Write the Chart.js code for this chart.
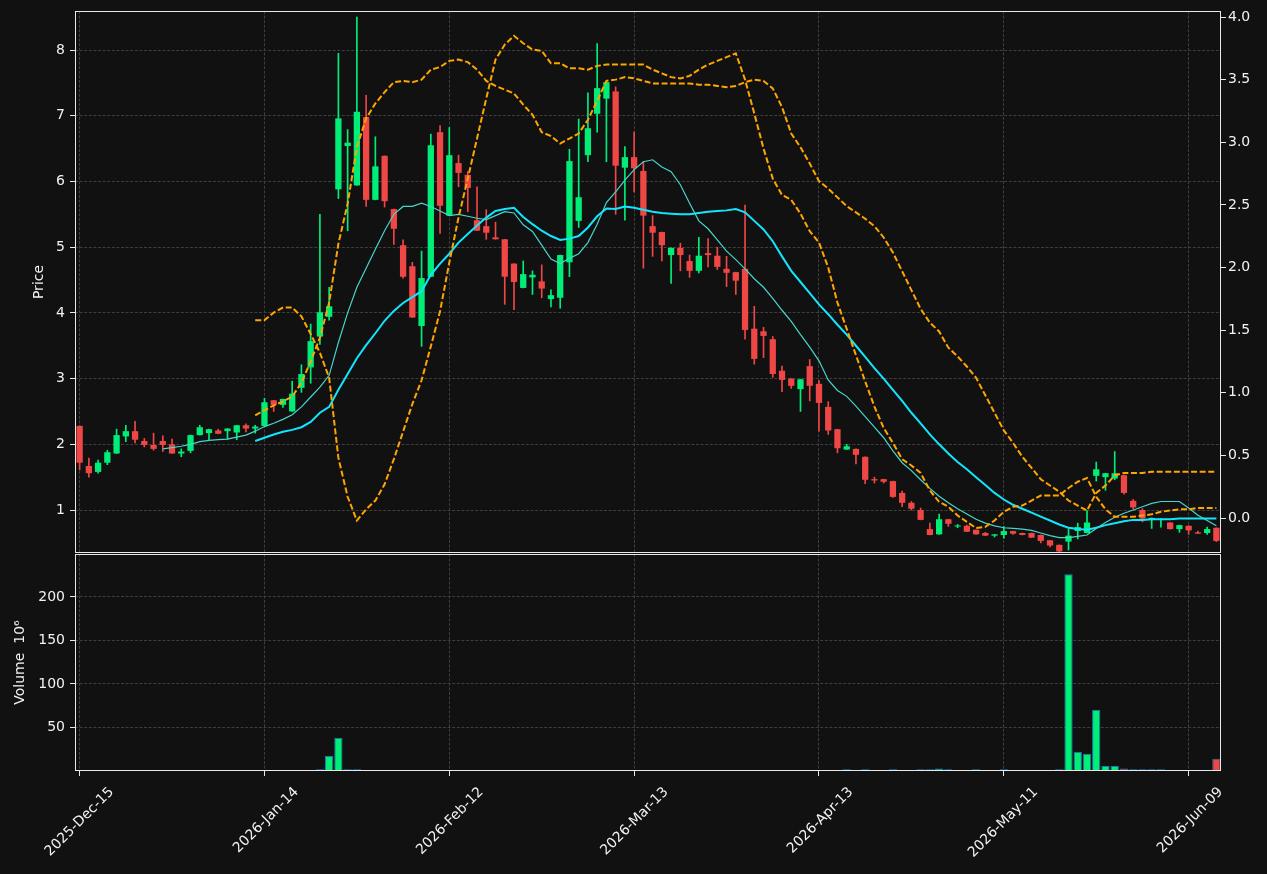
<!DOCTYPE html>
<html>
<head>
<meta charset="utf-8">
<script src="https://cdn.jsdelivr.net/npm/chart.js@4.4.1/dist/chart.umd.min.js"></script>
<style>
html, body { margin: 0; padding: 0; background: #111111; }
#wrap { position: relative; width: 1267px; height: 874px; }
canvas { position: absolute; left: 0; }
#priceChart { top: 0; }
#volChart { top: 553px; }
</style>
</head>
<body>
<div id="wrap">
  <canvas id="priceChart" width="1267" height="554"></canvas>
  <canvas id="volChart" width="1267" height="321"></canvas>
</div>
<script>
// trading calendar (weekends and exchange holidays skipped)
const firstDay = '2025-12-15';
const numDays = 124;
const holidays = ['2025-12-25', '2026-01-01', '2026-01-19', '2026-02-16', '2026-04-03', '2026-05-25'];
const monthNames = ['Jan', 'Feb', 'Mar', 'Apr', 'May', 'Jun', 'Jul', 'Aug', 'Sep', 'Oct', 'Nov', 'Dec'];

function tradingDays(start, count) {
    const out = [];
    const d = new Date(start + 'T00:00:00Z');
    while (out.length < count) {
        const iso = d.toISOString().slice(0, 10);
        const wd = d.getUTCDay();
        if (wd !== 0 && wd !== 6 && !holidays.includes(iso)) {
            out.push(d.getUTCFullYear() + '-' + monthNames[d.getUTCMonth()] + '-' + String(d.getUTCDate()).padStart(2, '0'));
        }
        d.setUTCDate(d.getUTCDate() + 1);
    }
    return out;
}
const dates = tradingDays(firstDay, numDays);

const priceTicks = [1, 2, 3, 4, 5, 6, 7, 8];
const rightTicks = [0, 0.5, 1, 1.5, 2, 2.5, 3, 3.5, 4];
const volumeTicks = [50, 100, 150, 200];

const open = [
    2.28, 1.67, 1.58, 1.72, 1.86, 2.12, 2.20, 2.05, 1.99, 2.05,
    2.00, 1.86, 1.90, 2.14, 2.17, 2.21, 2.20, 2.18, 2.29, 2.24,
    2.28, 2.67, 2.60, 2.50, 2.86, 3.17, 3.64, 3.94, 5.88, 6.54,
    5.94, 6.98, 5.72, 6.39, 5.58, 5.03, 4.71, 3.80, 4.55, 6.75,
    5.48, 6.28, 6.10, 5.41, 5.32, 5.15, 5.12, 4.75, 4.38, 4.54,
    4.48, 4.21, 4.23, 4.77, 5.40, 6.40, 7.03, 7.26, 7.37, 6.21,
    6.37, 6.16, 5.32, 5.23, 4.88, 4.99, 4.79, 4.64, 4.91, 4.87,
    4.67, 4.62, 4.67, 3.76, 3.72, 3.60, 3.12, 3.00, 2.84, 3.19,
    2.92, 2.57, 2.23, 1.92, 1.93, 1.81, 1.47, 1.47, 1.44, 1.26,
    1.11, 1.00, 0.71, 0.63, 0.86, 0.75, 0.76, 0.70, 0.65, 0.61,
    0.62, 0.68, 0.65, 0.65, 0.62, 0.54, 0.47, 0.52, 0.68, 0.65,
    1.52, 1.50, 1.48, 1.53, 1.14, 1.00, 0.85, 0.85, 0.81, 0.71,
    0.76, 0.66, 0.65, 0.73
];
const high = [
    2.28, 1.79, 1.76, 1.91, 2.23, 2.29, 2.35, 2.09, 2.17, 2.13,
    2.08, 1.93, 2.14, 2.29, 2.23, 2.23, 2.24, 2.29, 2.31, 2.29,
    2.70, 2.67, 2.69, 2.96, 3.21, 3.83, 5.50, 4.39, 7.95, 6.79,
    8.50, 7.31, 6.68, 6.39, 5.58, 5.11, 4.77, 4.94, 6.72, 6.85,
    6.82, 6.40, 6.15, 5.92, 5.57, 5.38, 5.12, 4.75, 4.79, 4.64,
    4.73, 4.35, 4.88, 6.49, 6.95, 7.35, 8.10, 7.51, 7.44, 6.53,
    6.75, 6.30, 5.48, 5.23, 4.99, 5.06, 4.88, 5.15, 5.13, 5.00,
    4.86, 4.62, 5.64, 4.10, 3.78, 3.64, 3.19, 3.00, 2.99, 3.29,
    2.97, 2.65, 2.23, 2.00, 1.93, 1.81, 1.50, 1.47, 1.44, 1.29,
    1.13, 1.03, 0.80, 0.94, 0.86, 0.78, 0.77, 0.70, 0.66, 0.63,
    0.75, 0.68, 0.65, 0.65, 0.62, 0.54, 0.47, 0.71, 0.80, 0.99,
    1.73, 1.56, 1.89, 1.53, 1.16, 1.02, 0.88, 0.87, 0.81, 0.77,
    0.76, 0.68, 0.74, 0.73
];
const low = [
    1.61, 1.50, 1.56, 1.69, 1.86, 2.04, 2.02, 1.96, 1.91, 1.89,
    1.86, 1.81, 1.87, 2.14, 2.07, 2.16, 2.08, 2.07, 2.19, 2.17,
    2.28, 2.50, 2.56, 2.50, 2.79, 2.93, 3.52, 3.89, 5.74, 5.25,
    5.94, 5.62, 5.72, 5.61, 5.04, 4.53, 3.93, 3.49, 4.55, 5.21,
    5.48, 5.92, 5.54, 5.25, 5.12, 5.12, 4.13, 4.05, 4.38, 4.28,
    4.23, 4.09, 4.07, 4.55, 5.30, 6.30, 6.75, 6.30, 5.50, 5.41,
    5.84, 4.68, 4.86, 4.79, 4.45, 4.64, 4.54, 4.61, 4.70, 4.66,
    4.40, 4.28, 3.60, 3.22, 3.32, 3.02, 2.80, 2.85, 2.50, 2.66,
    2.20, 2.15, 1.87, 1.92, 1.70, 1.40, 1.41, 1.41, 1.19, 1.05,
    1.00, 0.85, 0.62, 0.63, 0.75, 0.73, 0.67, 0.63, 0.61, 0.59,
    0.57, 0.63, 0.62, 0.58, 0.50, 0.44, 0.36, 0.39, 0.56, 0.65,
    1.44, 1.30, 1.46, 1.24, 1.02, 0.82, 0.72, 0.74, 0.71, 0.66,
    0.63, 0.64, 0.63, 0.52
];
const close = [
    1.72, 1.56, 1.72, 1.88, 2.14, 2.20, 2.07, 1.99, 1.93, 1.99,
    1.86, 1.89, 2.14, 2.26, 2.23, 2.16, 2.24, 2.29, 2.24, 2.27,
    2.64, 2.60, 2.69, 2.77, 3.07, 3.57, 4.01, 4.10, 6.96, 6.59,
    7.06, 5.72, 6.23, 5.70, 5.28, 4.55, 3.93, 4.53, 6.55, 5.63,
    6.40, 6.13, 5.90, 5.25, 5.22, 5.12, 4.55, 4.47, 4.59, 4.58,
    4.37, 4.27, 4.88, 6.31, 5.76, 6.81, 7.42, 7.51, 6.24, 6.37,
    6.20, 5.48, 5.22, 5.03, 4.99, 4.88, 4.64, 4.87, 4.88, 4.70,
    4.61, 4.49, 3.74, 3.30, 3.65, 3.07, 2.98, 2.89, 2.99, 2.89,
    2.63, 2.21, 1.94, 1.97, 1.84, 1.46, 1.45, 1.43, 1.20, 1.11,
    1.02, 0.85, 0.62, 0.86, 0.79, 0.76, 0.67, 0.63, 0.61, 0.63,
    0.68, 0.64, 0.62, 0.58, 0.53, 0.46, 0.37, 0.61, 0.74, 0.81,
    1.62, 1.56, 1.56, 1.26, 1.04, 0.87, 0.88, 0.86, 0.71, 0.77,
    0.69, 0.64, 0.71, 0.53
];
// millions
const volume = [
    0, 0, 0, 0, 0, 0, 0, 0, 0, 0,
    0, 0, 0, 0, 0, 0, 0, 0, 0, 0,
    0, 0, 0, 0, 0, 0, 2, 17.2, 37.8, 2,
    2, 0, 0, 0, 0, 0, 0, 0, 0, 0,
    0, 0, 0, 0, 0, 0, 0, 0, 0, 0,
    0, 0, 0, 0, 0, 0, 0, 0, 0, 0,
    0, 0, 0, 0, 0, 0, 0, 0, 0, 0,
    0, 0, 0, 0, 0, 0, 0, 0, 0, 0,
    0, 0, 0, 2, 0, 2, 0, 0, 2, 0,
    0, 2, 2, 2.9, 2, 0, 0, 2, 0, 0,
    2, 0, 0, 0, 0, 0, 2, 226, 22.2, 19.9,
    70.3, 5.7, 5.7, 2.9, 2, 2, 2, 2, 0, 0,
    0, 0, 0, 14.2
];
const maShort = [
    null, null, null, null, null, null, null, null, null, 1.93,
    1.95, 1.97, 2.00, 2.04, 2.06, 2.07, 2.08, 2.11, 2.14, 2.20,
    2.27, 2.32, 2.38, 2.45, 2.57, 2.72, 2.87, 3.05, 3.55, 4.00,
    4.39, 4.68, 4.97, 5.25, 5.50, 5.62, 5.62, 5.67, 5.62, 5.55,
    5.48, 5.50, 5.47, 5.44, 5.42, 5.48, 5.54, 5.52, 5.34, 5.24,
    5.03, 4.82, 4.75, 4.83, 4.90, 5.07, 5.35, 5.68, 5.84, 6.02,
    6.18, 6.30, 6.33, 6.22, 6.15, 5.95, 5.67, 5.40, 5.28, 5.11,
    4.94, 4.81, 4.67, 4.52, 4.39, 4.22, 4.04, 3.87, 3.67, 3.48,
    3.27, 2.98, 2.82, 2.73, 2.58, 2.42, 2.26, 2.10, 1.90, 1.72,
    1.60, 1.46, 1.33, 1.21, 1.11, 1.02, 0.94, 0.86, 0.80, 0.76,
    0.73, 0.72, 0.71, 0.69, 0.65, 0.61, 0.58, 0.58, 0.60, 0.62,
    0.72, 0.81, 0.89, 0.95, 1.00, 1.05, 1.10, 1.13, 1.13, 1.13,
    1.03, 0.92, 0.84, 0.76
];
const maLong = [
    null, null, null, null, null, null, null, null, null, null,
    null, null, null, null, null, null, null, null, null, 2.05,
    2.10, 2.15, 2.19, 2.22, 2.26, 2.34, 2.48, 2.57, 2.83, 3.07,
    3.31, 3.51, 3.69, 3.88, 4.03, 4.15, 4.24, 4.33, 4.58, 4.75,
    4.90, 5.07, 5.20, 5.33, 5.45, 5.55, 5.58, 5.60, 5.46, 5.35,
    5.25, 5.17, 5.11, 5.13, 5.17, 5.30, 5.47, 5.59, 5.58, 5.62,
    5.60, 5.57, 5.54, 5.52, 5.51, 5.50, 5.50, 5.52, 5.54, 5.55,
    5.56, 5.58, 5.53, 5.40, 5.27, 5.09, 4.86, 4.64, 4.47, 4.30,
    4.13, 3.98, 3.82, 3.67, 3.50, 3.33, 3.16, 3.00, 2.83, 2.66,
    2.48, 2.32, 2.15, 2.00, 1.86, 1.73, 1.62, 1.50, 1.38, 1.26,
    1.16, 1.08, 1.02, 0.96, 0.90, 0.84, 0.78, 0.73, 0.71, 0.70,
    0.73, 0.77, 0.80, 0.83, 0.85, 0.85, 0.86, 0.86, 0.86, 0.87,
    0.87, 0.87, 0.87, 0.87
];
// the two dashed orange lines, right-hand axis
const bandA = [
    null, null, null, null, null, null, null, null, null, null,
    null, null, null, null, null, null, null, null, null, 1.58,
    1.58, 1.64, 1.68, 1.68, 1.61, 1.47, 1.32, 1.12, 0.48, 0.17,
    -0.02, 0.07, 0.14, 0.27, 0.47, 0.69, 0.91, 1.10, 1.37, 1.65,
    2.04, 2.40, 2.71, 3.03, 3.35, 3.66, 3.78, 3.85, 3.79, 3.74,
    3.73, 3.63, 3.63, 3.59, 3.59, 3.58, 3.61, 3.62, 3.62, 3.62,
    3.62, 3.62, 3.58, 3.55, 3.52, 3.51, 3.53, 3.58, 3.62, 3.65,
    3.68, 3.71, 3.50, 3.23, 2.95, 2.71, 2.58, 2.54, 2.43, 2.29,
    2.20, 2.00, 1.72, 1.51, 1.30, 1.09, 0.89, 0.72, 0.60, 0.47,
    0.42, 0.36, 0.22, 0.13, 0.09, 0.02, -0.03, -0.08, -0.07, -0.02,
    0.05, 0.09, 0.10, 0.14, 0.18, 0.18, 0.18, 0.24, 0.29, 0.32,
    0.17, 0.07, 0.01, 0.01, 0.01, 0.02, 0.03, 0.05, 0.06, 0.07,
    0.07, 0.08, 0.08, 0.08
];
const bandB = [
    null, null, null, null, null, null, null, null, null, null,
    null, null, null, null, null, null, null, null, null, 0.82,
    0.86, 0.90, 0.93, 0.97, 1.08, 1.25, 1.44, 1.72, 2.19, 2.51,
    2.96, 3.19, 3.31, 3.40, 3.48, 3.49, 3.48, 3.50, 3.58, 3.60,
    3.65, 3.66, 3.64, 3.58, 3.49, 3.45, 3.42, 3.39, 3.30, 3.22,
    3.08, 3.05, 2.99, 3.03, 3.07, 3.18, 3.33, 3.49, 3.50, 3.52,
    3.51, 3.49, 3.47, 3.47, 3.47, 3.47, 3.47, 3.46, 3.46, 3.45,
    3.44, 3.45, 3.48, 3.50, 3.49, 3.43, 3.28, 3.07, 2.96, 2.83,
    2.69, 2.63, 2.56, 2.49, 2.44, 2.39, 2.33, 2.24, 2.12, 1.97,
    1.82, 1.67, 1.56, 1.49, 1.36, 1.29, 1.21, 1.12, 0.98, 0.84,
    0.70, 0.60, 0.49, 0.40, 0.31, 0.26, 0.21, 0.14, 0.10, 0.06,
    0.20, 0.26, 0.34, 0.36, 0.36, 0.36, 0.37, 0.37, 0.37, 0.37,
    0.37, 0.37, 0.37, 0.37
];

const UP = '#00ee78';
const DOWN = '#ef4646';
const GRID = '#3e3e3e';
const SPINE = '#e8e8e8';
const TEXT = '#f2f2f2';
const DASH = [3, 1.6];

Chart.defaults.font.family = "'DejaVu Sans', sans-serif";
Chart.defaults.font.size = 14;
Chart.defaults.color = TEXT;
Chart.defaults.animation = false;

const candleColor = c => close[c.dataIndex] >= open[c.dataIndex] ? UP : DOWN;
const dateGrid = c => c.index % 20 === 0 ? GRID : 'rgba(0,0,0,0)';
const dateTick = c => c.index % 20 === 0 ? SPINE : 'rgba(0,0,0,0)';

// fixed box sizes so both panels share the same plot width
const fixBox = (w, h) => s => {
    if (w !== null) s.width = w;
    if (h !== null) s.height = h;
    s.paddingTop = 0; s.paddingBottom = 0; s.paddingLeft = 0; s.paddingRight = 0;
};
const useTicks = list => s => { s.ticks = list.map(v => ({ value: v })); };

const framePlugin = {
    id: 'frame',
    afterDraw(chart) {
        const { ctx, chartArea: a } = chart;
        ctx.save();
        ctx.strokeStyle = SPINE;
        ctx.lineWidth = 1;
        ctx.strokeRect(a.left + 0.5, a.top + 0.5, a.right - a.left - 1, a.bottom - a.top - 1);
        ctx.restore();
    }
};

new Chart(document.getElementById('priceChart'), {
    type: 'bar',
    data: {
        labels: dates,
        datasets: [
            {
                label: 'wick',
                data: dates.map((d, i) => [low[i], high[i]]),
                backgroundColor: candleColor,
                barThickness: 1,
                grouped: false,
                order: 3
            },
            {
                label: 'body',
                data: dates.map((d, i) => [Math.min(open[i], close[i]), Math.max(open[i], close[i])]),
                backgroundColor: candleColor,
                barPercentage: 0.68,
                categoryPercentage: 1,
                minBarLength: 1,
                grouped: false,
                order: 2
            },
            {
                type: 'line',
                label: 'ma short',
                data: maShort,
                borderColor: '#45d6cc',
                borderWidth: 1.2,
                pointRadius: 0,
                order: 1
            },
            {
                type: 'line',
                label: 'ma long',
                data: maLong,
                borderColor: '#12e6ff',
                borderWidth: 2,
                pointRadius: 0,
                order: 1
            },
            {
                type: 'line',
                label: 'band a',
                data: bandA,
                yAxisID: 'y1',
                borderColor: '#ffa500',
                borderWidth: 2,
                borderDash: [6, 2.6],
                pointRadius: 0,
                order: 0
            },
            {
                type: 'line',
                label: 'band b',
                data: bandB,
                yAxisID: 'y1',
                borderColor: '#ffa500',
                borderWidth: 2,
                borderDash: [6, 2.6],
                pointRadius: 0,
                order: 0
            }
        ]
    },
    options: {
        responsive: false,
        devicePixelRatio: 1,
        events: [],
        layout: { padding: { top: 11, left: 0, right: 0, bottom: 0 } },
        plugins: { legend: { display: false }, tooltip: { enabled: false } },
        scales: {
            x: {
                offset: true,
                grid: { offset: false, color: dateGrid, drawTicks: false },
                border: { display: false, dash: DASH },
                ticks: { display: false, autoSkip: false },
                afterFit: fixBox(null, 1)
            },
            y: {
                position: 'left',
                min: 0.346,
                max: 8.594,
                afterBuildTicks: useTicks(priceTicks),
                ticks: { padding: 5 },
                grid: { color: GRID, tickColor: SPINE, tickLength: 5, tickBorderDash: [] },
                border: { display: false, dash: DASH },
                title: { display: true, text: 'Price', color: TEXT, padding: { top: 31, bottom: 0 } },
                afterFit: fixBox(75, null)
            },
            y1: {
                position: 'right',
                min: -0.279,
                max: 4.048,
                afterBuildTicks: useTicks(rightTicks),
                ticks: { padding: 2, callback: v => v.toFixed(1) },
                grid: { drawOnChartArea: false, color: SPINE, tickLength: 5 },
                border: { display: false },
                afterFit: fixBox(46, null)
            }
        }
    },
    plugins: [framePlugin]
});

new Chart(document.getElementById('volChart'), {
    type: 'bar',
    data: {
        labels: dates,
        datasets: [{
            label: 'Volume',
            data: volume,
            backgroundColor: candleColor,
            borderColor: '#1f77b4',
            borderWidth: c => volume[c.dataIndex] > 0 ? 1 : 0,
            borderSkipped: false,
            barPercentage: 0.9,
            categoryPercentage: 1
        }]
    },
    options: {
        responsive: false,
        devicePixelRatio: 1,
        events: [],
        layout: { padding: { top: 1, left: 0, right: 46, bottom: 0 } },
        plugins: { legend: { display: false }, tooltip: { enabled: false } },
        scales: {
            x: {
                offset: true,
                grid: { offset: false, color: dateGrid, tickColor: dateTick, tickLength: 5, tickBorderDash: [] },
                border: { display: false, dash: DASH },
                ticks: {
                    autoSkip: false,
                    maxRotation: 45,
                    minRotation: 45,
                    padding: 8,
                    labelOffset: 32,
                    callback: (v, i) => i % 20 === 0 ? dates[i] : ''
                },
                afterFit: fixBox(null, 103)
            },
            y: {
                min: 0,
                max: 249.3,
                afterBuildTicks: useTicks(volumeTicks),
                ticks: { padding: 5 },
                grid: { color: GRID, tickColor: SPINE, tickLength: 5, tickBorderDash: [] },
                border: { display: false, dash: DASH },
                title: { display: true, text: 'Volume  10⁶', color: TEXT, padding: { top: 12, bottom: 0 } },
                afterFit: fixBox(75, null)
            }
        }
    },
    plugins: [framePlugin]
});
</script>
</body>
</html>
